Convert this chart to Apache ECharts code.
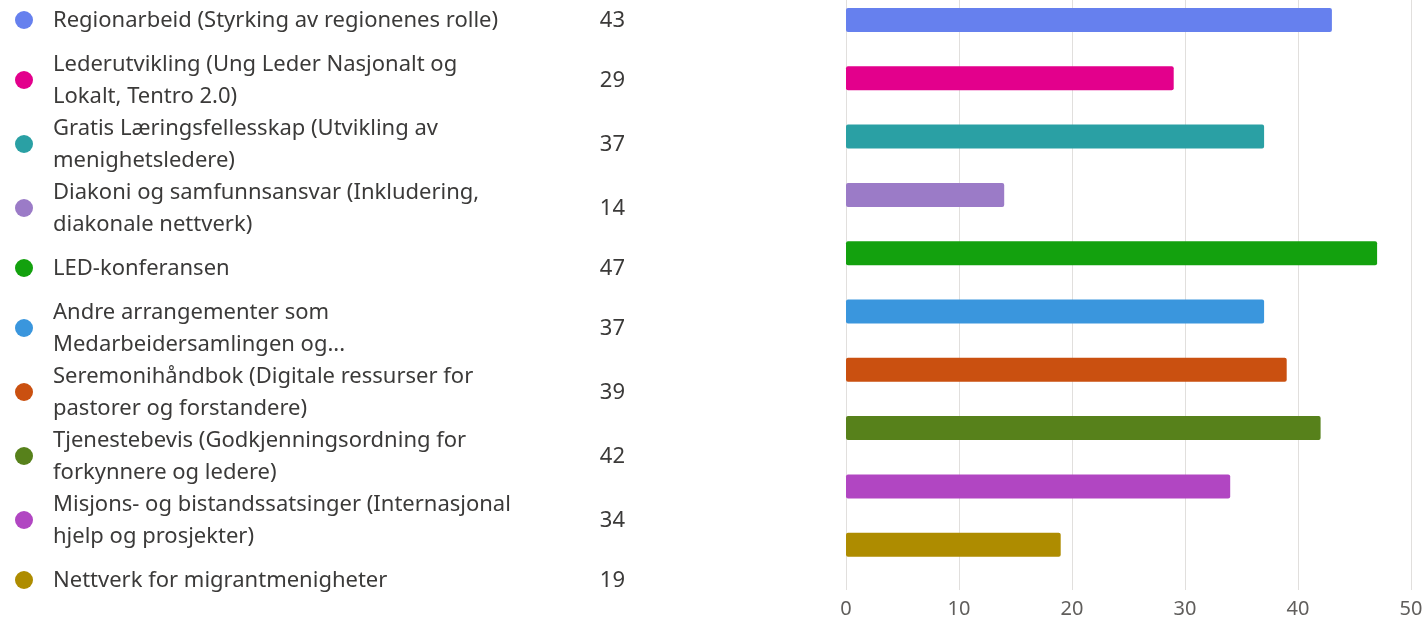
<!DOCTYPE html>
<html><head><meta charset="utf-8">
<script src="https://cdn.jsdelivr.net/npm/echarts@6/dist/echarts.min.js"></script>
<style>html,body{margin:0;padding:0;background:#fff}#c{width:1427px;height:623px}</style>
</head><body><div id="c"></div>
<script>
const categories = [
  "Regionarbeid (Styrking av regionenes rolle)",
  "Lederutvikling (Ung Leder Nasjonalt og\nLokalt, Tentro 2.0)",
  "Gratis Læringsfellesskap (Utvikling av\nmenighetsledere)",
  "Diakoni og samfunnsansvar (Inkludering,\ndiakonale nettverk)",
  "LED-konferansen",
  "Andre arrangementer som\nMedarbeidersamlingen og...",
  "Seremonihåndbok (Digitale ressurser for\npastorer og forstandere)",
  "Tjenestebevis (Godkjenningsordning for\nforkynnere og ledere)",
  "Misjons- og bistandssatsinger (Internasjonal\nhjelp og prosjekter)",
  "Nettverk for migrantmenigheter"
];
const values = [43, 29, 37, 14, 47, 37, 39, 42, 34, 19];
const colors = ["#6680ee", "#e3008c", "#2aa0a4", "#9b7bc7", "#13a10e", "#3a96dd", "#ca5010", "#57811b", "#b146c2", "#ae8c00"];
const xMin = 0, xMax = 50, xStep = 10;

const chart = echarts.init(document.getElementById('c'));
const FONT = '"Noto Sans", "Segoe UI", sans-serif';
const TEXT_COLOR = '#3b3a39';

// left legend list layout
const graphics = [];
let cursor = -8;
categories.forEach((c, i) => {
  const lines = c.split('\n').length;
  const h = lines > 1 ? 64 : 56;
  const cy = cursor + h / 2;
  cursor += h;
  graphics.push({ type: 'circle', shape: { cx: 24, cy: cy, r: 9 }, style: { fill: colors[i] } });
  graphics.push({ type: 'text', x: 53, y: cy + 1, style: { text: c, font: '22px ' + FONT, fill: TEXT_COLOR, lineHeight: 32, verticalAlign: 'middle', align: 'left' } });
  graphics.push({ type: 'text', x: 625, y: cy + 1, style: { text: String(values[i]), font: '22px ' + FONT, fill: TEXT_COLOR, verticalAlign: 'middle', align: 'right' } });
});

const plain = categories.map(c => c.replace('\n', ' '));

chart.setOption({
  animation: false,
  graphic: graphics,
  grid: [
    { left: 846, right: 16, top: -9.15, height: 583, outerBoundsMode: 'none', containLabel: false },
    { left: 846, right: 16, top: 0, bottom: 33, outerBoundsMode: 'none', containLabel: false }
  ],
  xAxis: [
    { gridIndex: 0, type: 'value', min: xMin, max: xMax, interval: xStep, show: false },
    { gridIndex: 1, type: 'value', min: xMin, max: xMax, interval: xStep,
      axisLine: { show: false }, axisTick: { show: false },
      splitLine: { show: true, lineStyle: { color: '#e1dfdd', width: 1 } },
      axisLabel: { color: '#605e5c', fontSize: 20, fontFamily: FONT, margin: 9 } }
  ],
  yAxis: [
    { gridIndex: 0, type: 'category', data: plain, inverse: true, show: false },
    { gridIndex: 1, type: 'value', show: false, min: 0, max: 1 }
  ],
  series: [{
    type: 'bar', xAxisIndex: 0, yAxisIndex: 0, barWidth: 24,
    data: values.map((v, i) => ({ value: v, itemStyle: { color: colors[i], borderRadius: 2 } }))
  }]
});
</script></body></html>
